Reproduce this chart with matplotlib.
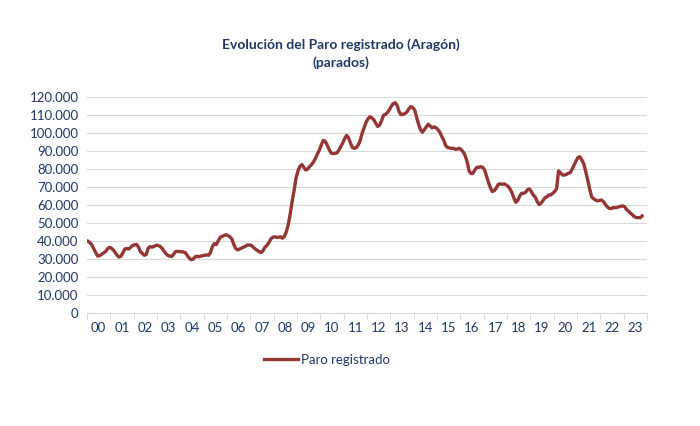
import matplotlib
matplotlib.use("Agg")
import matplotlib.pyplot as plt
from matplotlib.ticker import FuncFormatter, FixedLocator

# Monthly registered unemployment, Aragón (thousands), Jan 2000 - Oct 2023
y2000 = [39.8, 39.0, 37.8, 35.5, 33.5, 31.5, 31.8, 32.5, 33.3, 34.0, 35.5, 36.4]
y2001 = [36.0, 35.0, 33.5, 32.0, 31.0, 31.5, 33.5, 35.5, 35.8, 35.5, 36.5, 37.5]
y2002 = [37.8, 38.0, 36.5, 34.0, 33.0, 32.0, 32.5, 36.0, 36.8, 36.5, 37.0, 37.5]
y2003 = [37.5, 37.0, 36.0, 34.5, 33.0, 32.0, 31.5, 31.3, 32.5, 34.0, 34.2, 34.0]
y2004 = [34.0, 33.8, 33.5, 32.0, 30.5, 29.5, 29.8, 31.0, 31.5, 31.2, 31.5, 31.8]
y2005 = [32.0, 32.2, 32.0, 33.5, 36.8, 38.5, 38.0, 40.0, 42.0, 42.5, 43.0, 43.5]
y2006 = [43.0, 42.3, 41.0, 38.0, 35.8, 35.0, 35.5, 36.0, 36.5, 37.0, 37.7, 37.7]
y2007 = [37.5, 36.5, 35.5, 34.8, 34.0, 33.5, 34.5, 36.5, 37.5, 39.0, 41.0, 42.0]
y2008 = [42.3, 42.0, 42.0, 42.3, 41.5, 42.5, 45.0, 49.0, 55.0, 62.0, 68.0, 75.0]
y2009 = [79.0, 81.5, 82.5, 81.0, 79.5, 80.0, 81.5, 82.5, 84.0, 86.0, 88.5, 90.6]
y2010 = [93.5, 96.0, 95.5, 93.5, 91.0, 89.0, 88.6, 88.8, 89.0, 90.5, 92.5, 94.5]
y2011 = [97.0, 98.8, 97.5, 94.5, 92.0, 91.6, 92.0, 93.5, 96.0, 100.0, 103.0, 106.0]
y2012 = [108.0, 109.2, 108.5, 107.5, 105.5, 103.8, 104.5, 107.0, 110.0, 110.5, 111.5, 113.0]
y2013 = [115.0, 116.5, 117.0, 115.5, 112.0, 110.3, 110.5, 111.0, 111.8, 113.5, 114.8, 114.3]
y2014 = [113.0, 109.0, 105.0, 102.0, 100.5, 102.0, 103.5, 105.0, 104.0, 103.0, 103.5, 103.0]
y2015 = [102.0, 100.5, 98.0, 96.0, 93.0, 92.0, 91.8, 91.5, 91.6, 91.0, 91.2, 91.6]
y2016 = [90.8, 89.5, 87.5, 84.0, 79.0, 77.5, 77.7, 79.5, 81.0, 81.0, 81.3, 81.0]
y2017 = [79.5, 76.0, 72.5, 69.5, 67.5, 68.0, 69.5, 71.5, 71.8, 71.5, 71.8, 71.2]
y2018 = [70.5, 69.0, 67.0, 64.0, 61.5, 62.5, 65.0, 66.5, 66.5, 67.0, 68.5, 69.0]
y2019 = [67.5, 65.5, 64.5, 62.0, 60.3, 61.0, 62.5, 64.0, 64.5, 65.6, 65.6, 66.5]
y2020 = [67.5, 69.0, 79.0, 78.0, 76.7, 76.7, 77.0, 77.7, 78.0, 80.0, 82.3, 84.5]
y2021 = [86.5, 86.9, 85.0, 83.0, 78.5, 74.0, 69.0, 64.6, 63.5, 62.8, 62.3, 62.5]
y2022 = [62.8, 62.0, 60.5, 59.0, 58.2, 58.0, 58.5, 58.5, 58.6, 59.0, 59.3, 59.5]
y2023 = [59.0, 57.5, 56.5, 55.5, 54.5, 53.5, 53.0, 53.0, 52.9, 53.9]

year_labels = ["00", "01", "02", "03", "04", "05", "06", "07", "08", "09", "10", "11",
               "12", "13", "14", "15", "16", "17", "18", "19", "20", "21", "22", "23"]
y_ticks = [0, 10000, 20000, 30000, 40000, 50000, 60000, 70000, 80000, 90000,
           100000, 110000, 120000]

series = (y2000 + y2001 + y2002 + y2003 + y2004 + y2005 + y2006 + y2007 + y2008 +
          y2009 + y2010 + y2011 + y2012 + y2013 + y2014 + y2015 + y2016 + y2017 +
          y2018 + y2019 + y2020 + y2021 + y2022 + y2023)
values = [v * 1000 for v in series]
months = list(range(len(values)))

plt.rcParams['font.family'] = ['Lato', 'DejaVu Sans']
text_col = '#1f3864'

fig = plt.figure(figsize=(7.0, 4.26), dpi=100)
ax = fig.add_axes([87/700, 1 - 312.7/426, (647 - 87)/700, (312.7 - 97.3)/426])

ax.plot(months, values, color='#943634', lw=2.4, solid_joinstyle='round',
        label='Paro registrado', zorder=3)

n_years = len(year_labels)
ax.set_xlim(-0.5, 12 * n_years - 0.5)
ax.set_ylim(0, 120000)

ax.set_yticks(y_ticks)
ax.yaxis.set_major_formatter(FuncFormatter(lambda v, p: f"{int(v):,}".replace(",", ".")))
ax.tick_params(axis='y', length=0, labelsize=9.5, labelcolor=text_col, pad=6)

ax.xaxis.set_major_locator(FixedLocator([12 * k + 5.5 for k in range(n_years)]))
ax.set_xticklabels(year_labels)
ax.xaxis.set_minor_locator(FixedLocator([12 * k - 0.5 for k in range(n_years + 1)]))
ax.tick_params(axis='x', which='major', length=0, labelsize=9.5, labelcolor=text_col, pad=7)
ax.tick_params(axis='x', which='minor', length=5, color='#d9d9d9', width=0.8)

ax.grid(axis='y', color='#d9d9d9', lw=0.8, zorder=0)
for s in ['top', 'right', 'left']:
    ax.spines[s].set_visible(False)
ax.spines['bottom'].set_color('#d9d9d9')
ax.spines['bottom'].set_linewidth(0.8)

fig.text(341/700, 1 - 45/426, "Evolución del Paro registrado (Aragón)", ha='center', va='center',
         fontsize=10, fontweight='bold', color=text_col)
fig.text(341/700, 1 - 63/426, "(parados)", ha='center', va='center',
         fontsize=10, fontweight='bold', color=text_col)

fig.legend(loc='center', bbox_to_anchor=(327/700, 1 - 360/426), frameon=False,
           fontsize=9.5, handlelength=2.6, handletextpad=0.2, labelcolor=text_col)

fig.savefig("out.png", dpi=100, facecolor='white')
